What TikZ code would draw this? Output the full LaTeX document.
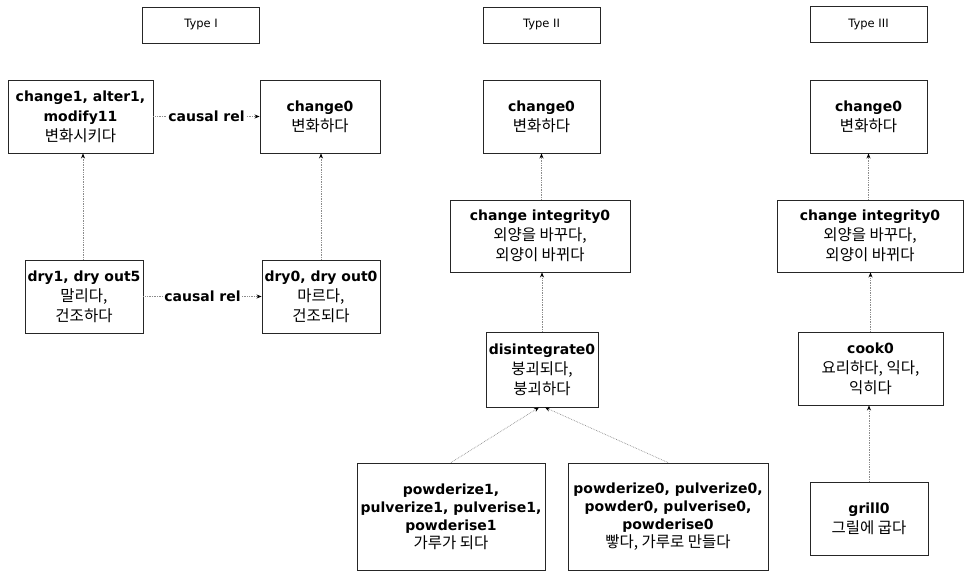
\documentclass[tikz,border=0pt]{standalone}
\usepackage{fontspec}
\setmainfont{DejaVu Sans}
\newfontfamily\kofont{Noto Sans CJK KR}
\usetikzlibrary{arrows.meta}
\newcommand\kr[1]{{\normalfont\kofont\fontsize{15.5}{20}\selectfont #1}}
\tikzset{
  box/.style={draw=black!85, line width=0.9pt, align=center, inner sep=0pt,
    font=\bfseries\fontsize{14}{20}\selectfont},
  tbox/.style={draw=black!85, line width=0.9pt, inner sep=0pt,
    minimum width=117pt, minimum height=36pt, font=\fontsize{11.5}{13}\selectfont},
  conn/.style={densely dotted, draw=black!45, line width=0.7pt,
    -{Stealth[length=5pt,width=4pt,color=black]}},
  lbl/.style={fill=white, inner sep=1pt, font=\bfseries\fontsize{14}{16}\selectfont}
}
\begin{document}
\begin{tikzpicture}[x=1pt,y=-1pt]
\useasboundingbox (0,0) rectangle (965,572);
% type labels
\node[tbox] (t1) at (201,25) {Type I};
\node[tbox] (t2) at (541.5,25) {Type II};
\node[tbox] (t3) at (868.5,24.5) {Type III};
% Type I
\node[box, minimum width=145pt, minimum height=73pt] (c1) at (80.5,116.5)
  {change1, alter1,\\ modify11\\ \kr{변화시키다}};
\node[box, minimum width=120pt, minimum height=73pt] (c0a) at (320,116.5)
  {change0\\ \kr{변화하다}};
\node[box, minimum width=118pt, minimum height=73pt] (d1) at (84,296.5)
  {dry1, dry out5\\ \kr{말리다,}\\ \kr{건조하다}};
\node[box, minimum width=118pt, minimum height=73pt] (d0) at (321,296.5)
  {dry0, dry out0\\ \kr{마르다,}\\ \kr{건조되다}};
% Type II
\node[box, minimum width=117pt, minimum height=73pt] (c0b) at (541.5,116.5)
  {change0\\ \kr{변화하다}};
\node[box, minimum width=180pt, minimum height=72pt] (ci2) at (540,236)
  {change integrity0\\ \kr{외양을 바꾸다,}\\ \kr{외양이 바뀌다}};
\node[box, minimum width=112pt, minimum height=75pt] (dis) at (542,369.5)
  {disintegrate0\\ \kr{붕괴되다,}\\ \kr{붕괴하다}};
\node[box, minimum width=188pt, minimum height=107pt, font=\bfseries\fontsize{14}{18}\selectfont] (p1) at (451,516.5)
  {powderize1,\\ pulverize1, pulverise1,\\ powderise1\\ \kr{가루가 되다}};
\node[box, minimum width=200pt, minimum height=107pt, font=\bfseries\fontsize{14}{18}\selectfont] (p0) at (668,516.5)
  {powderize0, pulverize0,\\ powder0, pulverise0,\\ powderise0\\ \kr{빻다, 가루로 만들다}};
% Type III
\node[box, minimum width=117pt, minimum height=73pt] (c0c) at (868.5,116.5)
  {change0\\ \kr{변화하다}};
\node[box, minimum width=186pt, minimum height=72pt] (ci3) at (870,236)
  {change integrity0\\ \kr{외양을 바꾸다,}\\ \kr{외양이 바뀌다}};
\node[box, minimum width=145pt, minimum height=73pt] (cook) at (870.5,368.5)
  {cook0\\ \kr{요리하다, 익다,}\\ \kr{익히다}};
\node[box, minimum width=118pt, minimum height=73pt] (grill) at (869,518.5)
  {grill0\\ \kr{그릴에 굽다}};
% connectors
\draw[conn] (c1) -- node[lbl] {causal rel} (c0a);
\draw[conn] (d1) -- node[lbl] {causal rel} (d0);
\draw[conn] (d1.north -| 83,0) -- (c1.south -| 83,0);
\draw[conn] (d0.north) -- (d0.north |- c0a.south);
\draw[conn] (ci2.north -| c0b.south) -- (c0b.south);
\draw[conn] (dis.north) -- (dis.north |- ci2.south);
\draw[conn] (p1.north) -- ([xshift=-3pt]dis.south);
\draw[conn] (p0.north) -- ([xshift=3pt]dis.south);
\draw[conn] (ci3.north -| c0c.south) -- (c0c.south);
\draw[conn] (cook.north) -- (cook.north |- ci3.south);
\draw[conn] (grill.north) -- (grill.north |- cook.south);
\end{tikzpicture}
\end{document}
